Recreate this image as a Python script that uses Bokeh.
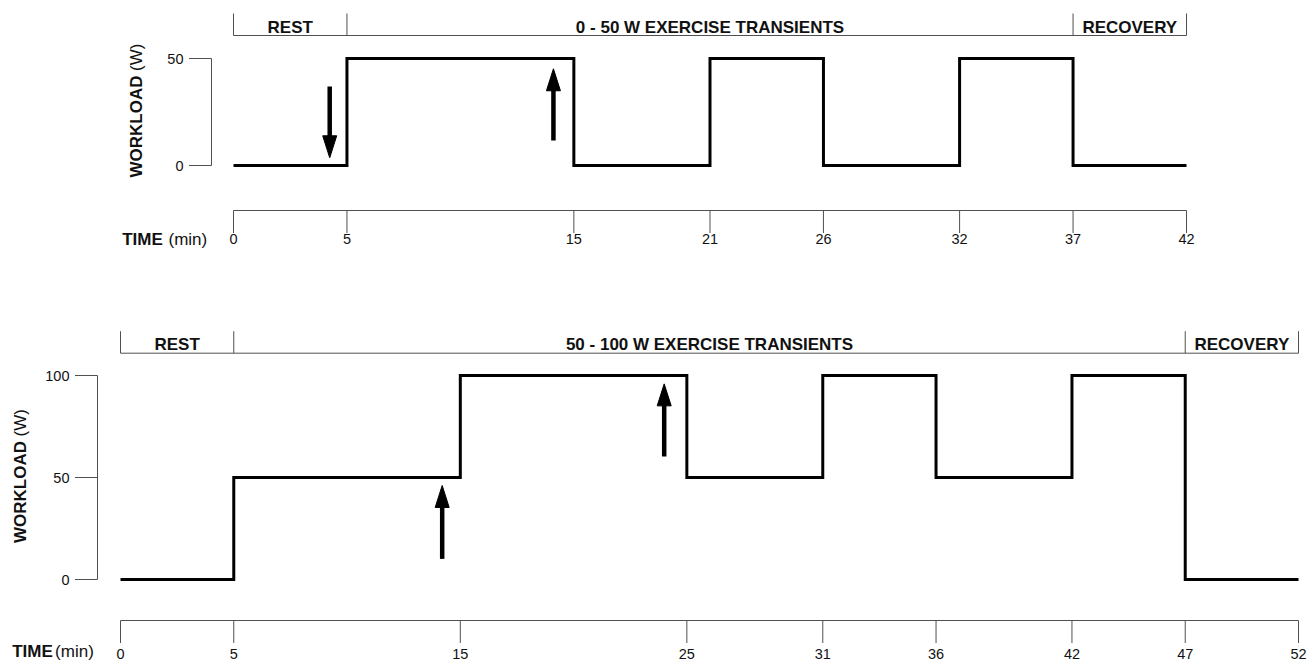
from bokeh.plotting import figure
from bokeh.models import Range1d
from bokeh.layouts import column
from bokeh.embed import file_html
from bokeh.resources import INLINE
from bokeh.core.properties import value

# ---------------- data ----------------
top_breaks = [0, 5, 15, 21, 26, 32, 37, 42]          # time (min) of load changes / time ticks
top_levels = [0, 50, 0, 50, 0, 50, 0]                 # workload (W) in each interval
top_yticks = [0, 50]
top_phase_bounds = [0, 5, 37, 42]
top_phase_names = ["REST", "0 - 50 W EXERCISE TRANSIENTS", "RECOVERY"]
top_arrow_x = [4.24, 14.1]
top_arrow_from = [36.9, 11.7]
top_arrow_to = [3.6, 45.2]

bot_breaks = [0, 5, 15, 25, 31, 36, 42, 47, 52]
bot_levels = [0, 50, 100, 50, 100, 50, 100, 0]
bot_yticks = [0, 50, 100]
bot_phase_bounds = [0, 5, 47, 52]
bot_phase_names = ["REST", "50 - 100 W EXERCISE TRANSIENTS", "RECOVERY"]
bot_arrow_x = [14.2, 24.0]
bot_arrow_from = [10.1, 60.3]
bot_arrow_to = [46.1, 95.9]

y_title_bold, y_title_unit = "WORKLOAD", "(W)"
x_title_bold, x_title_unit = "TIME", "(min)"

# ---------------- style / layout (page pixels) ----------------
FONT = "Liberation Sans"
GRAY = "#505050"
INK = "#000000"
TXT = "#111111"
FIG_W = 1316
TICK_FS = "14.5px"
TITLE_FS = "17px"
TICK_LEN = 22.5
HEAD_W = 14.0
HEAD_L = 22.0
SHAFT_W = 4.5

TOP_G = dict(canvas_top=0, height=262,
             x0_px=233, x_end_px=1186, y0_px=165, ytop_px=58,
             yaxis_px=211, ylab_right_px=183,
             xaxis_px=210, xlab_mid_px=238.5,
             bracket_px=35, bracket_top_px=13, phase_mid_px=27,
             ytitle_cx=136, ytitle_split_px=75,
             xtitle_left_px=121.7, xtitle_right_px=206.7, xtitle_mid_px=238.5)
BOT_G = dict(canvas_top=262, height=400,
             x0_px=120, x_end_px=1298, y0_px=579, ytop_px=375,
             yaxis_px=97, ylab_right_px=69,
             xaxis_px=620, xlab_mid_px=653.5,
             bracket_px=352.7, bracket_top_px=330.7, phase_mid_px=343.5,
             ytitle_cx=19.5, ytitle_split_px=440.5,
             xtitle_left_px=11.7, xtitle_right_px=93.3, xtitle_mid_px=651)


def make_panel(breaks, levels, yticks, pbounds, pnames, ax, afrom, ato, g):
    kx = (g["x_end_px"] - g["x0_px"]) / (breaks[-1] - breaks[0])
    ky = (g["y0_px"] - g["ytop_px"]) / (yticks[-1] - yticks[0])

    def X(px):
        return breaks[0] + (px - g["x0_px"]) / kx

    def Y(py):
        return yticks[0] + (g["y0_px"] - py) / ky

    top, h = g["canvas_top"], g["height"]
    p = figure(width=FIG_W, height=h,
               x_range=Range1d(X(0), X(FIG_W)),
               y_range=Range1d(Y(top + h), Y(top)),
               x_axis_type=None, y_axis_type=None,
               toolbar_location=None, output_backend="svg",
               min_border=0, min_border_left=0, min_border_right=0,
               min_border_top=0, min_border_bottom=0)
    p.outline_line_color = None
    p.background_fill_color = "white"
    p.border_fill_color = "white"

    # ---- workload axis ----
    xa = X(g["yaxis_px"])
    p.segment(x0=[xa], y0=[yticks[0]], x1=[xa], y1=[yticks[-1]], line_color=GRAY, line_width=1)
    p.segment(x0=[X(g["yaxis_px"] - TICK_LEN)] * len(yticks), y0=yticks,
              x1=[xa] * len(yticks), y1=yticks, line_color=GRAY, line_width=1)
    p.text(x=[X(g["ylab_right_px"])] * len(yticks), y=yticks, text=[str(t) for t in yticks],
           text_font=value(FONT), text_font_size=TICK_FS, text_color=TXT,
           text_align="right", text_baseline="middle")

    # ---- time axis ----
    ya = Y(g["xaxis_px"])
    p.segment(x0=[breaks[0]], y0=[ya], x1=[breaks[-1]], y1=[ya], line_color=GRAY, line_width=1)
    p.segment(x0=breaks, y0=[ya] * len(breaks), x1=breaks,
              y1=[Y(g["xaxis_px"] + TICK_LEN)] * len(breaks), line_color=GRAY, line_width=1)
    p.text(x=breaks, y=[Y(g["xlab_mid_px"])] * len(breaks), text=[str(b) for b in breaks],
           text_font=value(FONT), text_font_size=TICK_FS, text_color=TXT,
           text_align="center", text_baseline="middle")

    # ---- phase bracket ----
    yb = Y(g["bracket_px"])
    ybt = Y(g["bracket_top_px"])
    p.segment(x0=[pbounds[0]], y0=[yb], x1=[pbounds[-1]], y1=[yb], line_color=GRAY, line_width=1)
    p.segment(x0=pbounds, y0=[yb] * len(pbounds), x1=pbounds, y1=[ybt] * len(pbounds),
              line_color=GRAY, line_width=1)
    mids = [(a + b) / 2 for a, b in zip(pbounds[:-1], pbounds[1:])]
    p.text(x=mids, y=[Y(g["phase_mid_px"])] * len(mids), text=pnames,
           text_font=value(FONT), text_font_style="bold", text_font_size=TITLE_FS,
           text_align="center", text_baseline="middle", text_color=TXT)

    # ---- workload protocol ----
    p.step(x=breaks, y=list(levels) + [levels[-1]], mode="after",
           line_width=3, line_color=INK, line_join="miter")

    # ---- arrows ----
    hw = HEAD_W / 2 / kx
    hl = HEAD_L / ky
    sx0, sy0, sx1, sy1, pxs, pys = [], [], [], [], [], []
    for x, a, b in zip(ax, afrom, ato):
        d = 1 if b > a else -1
        base = b - d * hl
        sx0.append(x); sy0.append(a); sx1.append(x); sy1.append(base + d * 0.5 / ky)
        pxs.append([x - hw, x + hw, x])
        pys.append([base, base, b])
    p.segment(x0=sx0, y0=sy0, x1=sx1, y1=sy1, line_color=INK, line_width=SHAFT_W, line_cap="butt")
    p.patches(xs=pxs, ys=pys, fill_color=INK, line_color=INK, line_width=1)

    # ---- axis titles ----
    cx = X(g["ytitle_cx"])
    p.text(x=[cx], y=[Y(g["ytitle_split_px"])], text=[y_title_bold], angle=90, angle_units="deg",
           text_align="right", text_baseline="middle", text_font=value(FONT),
           text_font_style="bold", text_font_size=TITLE_FS, text_color=TXT)
    p.text(x=[cx], y=[Y(g["ytitle_split_px"] - 4.5)], text=[y_title_unit], angle=90,
           angle_units="deg", text_align="left", text_baseline="middle", text_font=value(FONT),
           text_font_style="normal", text_font_size=TITLE_FS, text_color=TXT)
    yt = Y(g["xtitle_mid_px"])
    p.text(x=[X(g["xtitle_left_px"])], y=[yt], text=[x_title_bold], text_align="left",
           text_baseline="middle", text_font=value(FONT), text_font_style="bold",
           text_font_size=TITLE_FS, text_color=TXT)
    p.text(x=[X(g["xtitle_right_px"])], y=[yt], text=[x_title_unit], text_align="right",
           text_baseline="middle", text_font=value(FONT), text_font_style="normal",
           text_font_size=TITLE_FS, text_color=TXT)
    return p


p_top = make_panel(top_breaks, top_levels, top_yticks, top_phase_bounds, top_phase_names,
                   top_arrow_x, top_arrow_from, top_arrow_to, TOP_G)
p_bot = make_panel(bot_breaks, bot_levels, bot_yticks, bot_phase_bounds, bot_phase_names,
                   bot_arrow_x, bot_arrow_from, bot_arrow_to, BOT_G)

layout = column(p_top, p_bot, spacing=0)
open("out.html", "w").write(file_html(layout, INLINE))
